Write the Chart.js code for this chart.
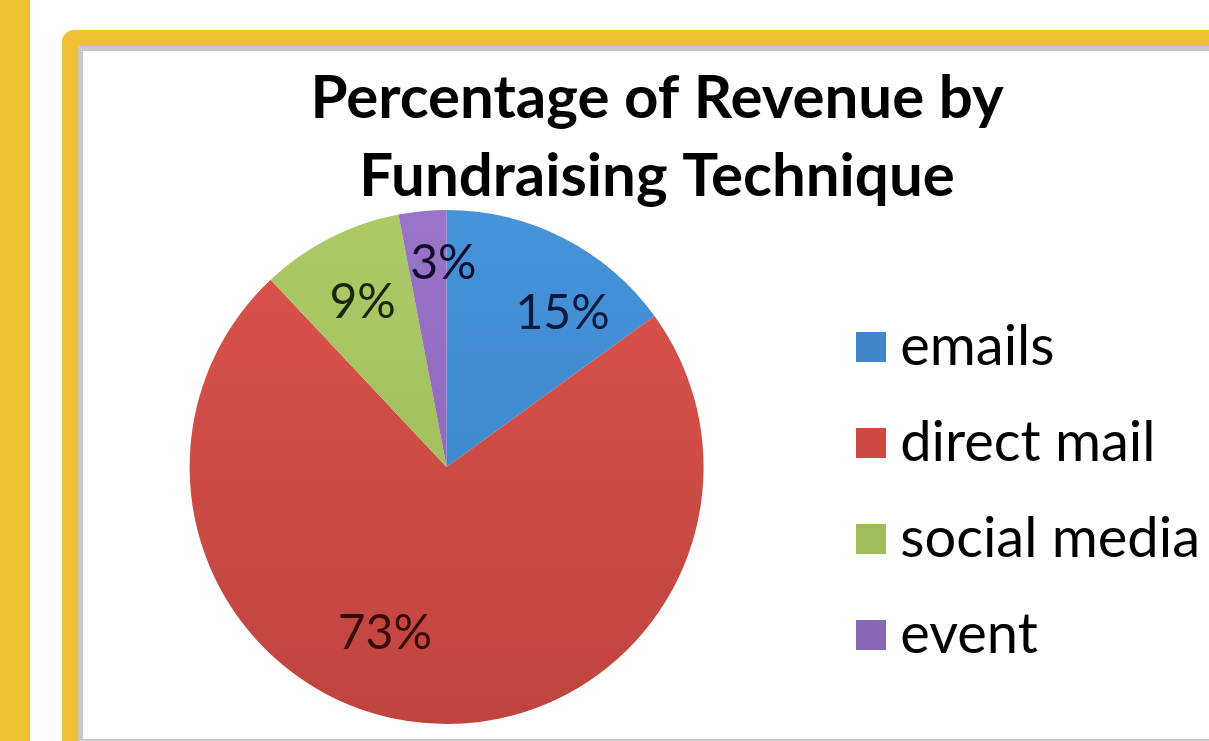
<!DOCTYPE html>
<html>
<head>
<meta charset="utf-8">
<script src="https://cdn.jsdelivr.net/npm/chart.js@4/dist/chart.umd.min.js"></script>
<style>
  html, body { margin: 0; padding: 0; width: 1209px; height: 741px; overflow: hidden; background: #fff; }
  #stripe { position: absolute; left: 0; top: 0; width: 30px; height: 741px; background: #f0c133; }
  #frame { position: absolute; left: 62px; top: 30px; width: 1300px; height: 800px; box-sizing: border-box;
           border: 16px solid #f0c133; border-radius: 12px; background: #fff; }
  #inner { position: absolute; left: 78px; top: 46px; width: 1200px; height: 695px; box-sizing: border-box;
           border-left: 5px solid #c8c8c8; border-top: 5px solid #c8c8c8; border-bottom: 2px solid #c8c8c8; background: #fff; }
  #wrap { position: absolute; left: 63px; top: 51px; width: 1160px; height: 687px; }
</style>
</head>
<body>
<div id="stripe"></div>
<div id="frame"></div>
<div id="inner"></div>
<div id="wrap"><canvas id="chart"></canvas></div>
<script>
// data
const categories = ["emails", "direct mail", "social media", "event"];
const shares = [15, 73, 9, 3];
const titleLines = ["Percentage of Revenue by", "Fundraising Technique"];

// slice colours: light at the top of the pie, darker at the bottom
const topColors = ["#4693da", "#dc544d", "#acca66", "#9a74c8"];
const bottomColors = ["#3a80c2", "#bf443e", "#98b656", "#8660b0"];
const legendColors = ["#3f85c8", "#cf4a44", "#9fbd5c", "#8a66b6"];
const labelColors = ["#0c1a3c", "#3a0a0a", "#18260a", "#140c2c"];

function sliceFill(c) {
  const i = c.dataIndex;
  const area = c.chart.chartArea;
  if (!area) return topColors[i];
  const g = c.chart.ctx.createLinearGradient(0, area.top, 0, area.bottom);
  g.addColorStop(0, topColors[i]);
  g.addColorStop(1, bottomColors[i]);
  return g;
}

// 30px square legend swatch, used as point style so the text can sit closer to it
function swatch(color) {
  const c = document.createElement("canvas");
  c.width = 30;
  c.height = 30;
  const g = c.getContext("2d");
  g.fillStyle = color;
  g.fillRect(0, 0, 30, 30);
  return c;
}

// percent labels inside the slices (angle shift in degrees, radius as part of the pie radius)
const sliceLabels = {
  id: "sliceLabels",
  afterLayout(chart, args, opts) {
    // title sits a bit right of the canvas centre in the original
    if (chart.titleBlock) chart.titleBlock.left += opts.titleShift;
  },
  afterDatasetsDraw(chart, args, opts) {
    const ctx = chart.ctx;
    const meta = chart.getDatasetMeta(0);
    ctx.save();
    ctx.font = "48px Lato";
    ctx.textAlign = "center";
    ctx.textBaseline = "middle";
    meta.data.forEach((arc, i) => {
      const p = arc.getProps(["x", "y", "startAngle", "endAngle", "outerRadius"], true);
      const a = (p.startAngle + p.endAngle) / 2 + opts.shift[i] * Math.PI / 180;
      const r = p.outerRadius * opts.radius[i];
      ctx.fillStyle = labelColors[i];
      ctx.fillText(shares[i] + "%", p.x + Math.cos(a) * r, p.y + Math.sin(a) * r);
    });
    ctx.restore();
  },
};

new Chart(document.getElementById("chart"), {
  type: "pie",
  data: {
    labels: categories,
    datasets: [{
      data: shares,
      backgroundColor: sliceFill,
      borderWidth: 0,
    }],
  },
  plugins: [sliceLabels],
  options: {
    responsive: true,
    maintainAspectRatio: false,
    animation: false,
    devicePixelRatio: 1,
    layout: { padding: { left: 0, right: 13, top: 0, bottom: 14 } },
    plugins: {
      tooltip: { enabled: false },
      title: {
        display: true,
        text: titleLines,
        color: "#000",
        font: { family: "Lato", weight: "bold", size: 60, lineHeight: 1.3 },
        padding: { top: 9, bottom: -6 },
      },
      legend: {
        position: "right",
        align: "center",
        title: { display: true, text: "", font: { size: 10, lineHeight: 1.2 }, padding: 97.5 },
        labels: {
          color: "#000",
          font: { family: "Lato", size: 56 },
          usePointStyle: true,
          pointStyleWidth: 2,
          boxHeight: 30,
          padding: 40,
          generateLabels(chart) {
            const items = Chart.overrides.doughnut.plugins.legend.labels.generateLabels(chart);
            items.forEach((it, i) => { it.pointStyle = swatch(legendColors[i]); });
            return items;
          },
        },
      },
      sliceLabels: {
        shift: [10, 15, 0, 4.5],
        radius: [0.75, 0.69, 0.72, 0.79],
        titleShift: 41,
      },
    },
  },
});
</script>
</body>
</html>
